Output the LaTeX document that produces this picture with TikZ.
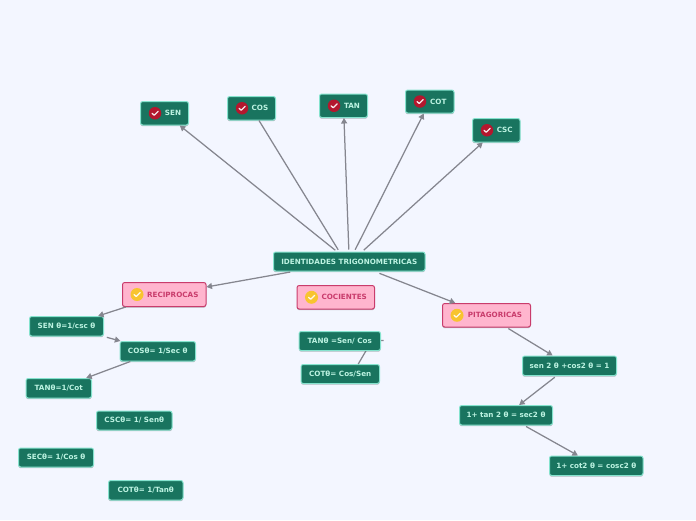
\documentclass[tikz,border=0pt]{standalone}
\usepackage{fontspec}
\setmainfont{DejaVu Sans}
\usetikzlibrary{arrows.meta,shadows,calc}
\definecolor{bgc}{HTML}{F3F6FF}
\definecolor{boxc}{HTML}{19745F}
\definecolor{boxb}{HTML}{85E3CE}
\definecolor{boxt}{HTML}{BDF3E2}
\definecolor{pinkc}{HTML}{FFB5CE}
\definecolor{pinkb}{HTML}{C93C6C}
\definecolor{linkc}{HTML}{85868F}
\definecolor{redi}{HTML}{B3172E}
\definecolor{yeli}{HTML}{F8C42F}
\tikzset{
  x=1pt,y=-1pt,
  base/.style={rounded corners=2.2pt,line width=1pt,inner sep=0pt,font=\bfseries\fontsize{7.2}{8}\selectfont,
    drop shadow={shadow xshift=0pt,shadow yshift=-1.2pt,fill=black,opacity=.25}},
  green/.style={base,draw=boxb,fill=boxc,text=boxt},
  pink/.style={base,draw=pinkb,fill=pinkc,text=pinkb},
  link/.style={draw=linkc,line width=1.25pt,-{Triangle[length=5.5pt,width=6pt]}},
  plainlink/.style={draw=linkc,line width=1.25pt},
  iconr/.style={circle,fill=redi,minimum size=12.5pt,inner sep=0pt},
  icony/.style={circle,fill=yeli,minimum size=13pt,inner sep=0pt},
}
\newcommand\bx[7]{\node[#6,minimum width=#4pt-#2pt,minimum height=#5pt-#3pt] (#1) at ({(#2+#4)/2},{(#3+#5)/2}) {#7};}
\newcommand\chk[3]{\node[#3] (i#1) at ($(#1.west)+(#2pt,0pt)$) {};
  \draw[white,line width=1.3pt,line cap=round,line join=round,opacity=.9] ($(i#1.center)+(-3pt,0pt)$) -- ($(i#1.center)+(-.8pt,-2pt)$) -- ($(i#1.center)+(3.2pt,2pt)$);}
\begin{document}
\begin{tikzpicture}
\fill[bgc] (0,0) rectangle (696,520);
\useasboundingbox (0,0) rectangle (696,520);
\bx{sen}{140.5}{101.5}{188.5}{125}{green}{\hspace*{17pt}SEN}
\bx{cos}{227.5}{96.5}{275.5}{120}{green}{\hspace*{17pt}COS}
\bx{tan}{319.5}{94}{367.5}{117.5}{green}{\hspace*{17pt}TAN}
\bx{cot}{405.5}{90}{454}{113}{green}{\hspace*{17pt}COT}
\bx{csc}{472.5}{118.5}{520}{142}{green}{\hspace*{17pt}CSC}
\bx{ident}{273.5}{252}{425}{271}{green}{IDENTIDADES TRIGONOMETRICAS}
\bx{coc}{297}{285.5}{374.5}{309}{pink}{\hspace*{17pt}COCIENTES}
\bx{rec}{122.5}{282.5}{206}{306.5}{pink}{\hspace*{17pt}RECIPROCAS}
\bx{pit}{442.5}{303.5}{530.5}{327}{pink}{\hspace*{17pt}PITAGORICAS}
\coordinate (stub) at (383.5,340.5);
\coordinate (bend) at (372,340.5);
\bx{cotb}{301}{364.5}{379.5}{383.5}{green}{COTθ= Cos/Sen}
\draw[plainlink] (stub) -- (bend) -- ($(cotb.north)+(18pt,0pt)$);
\bx{tanb}{299}{331.5}{380.5}{350.5}{green}{TANθ =Sen/ Cos}
\bx{sena}{29.5}{316.5}{103.5}{336}{green}{SEN θ=1/csc θ}
\bx{cosa}{120}{341.5}{195.5}{361}{green}{COSθ= 1/Sec θ}
\bx{tana}{26}{378.5}{91.5}{398}{green}{TANθ=1/Cot}
\bx{csca}{96.5}{411}{172}{430}{green}{CSCθ= 1/ Senθ}
\bx{seca}{18.5}{448}{93.5}{467}{green}{SECθ= 1/Cos θ}
\bx{cota}{108.5}{480.5}{183}{500}{green}{COTθ= 1/Tanθ}
\bx{pa}{522.5}{356}{616.5}{375.5}{green}{sen 2 θ +cos2 θ = 1}
\bx{pb}{459.5}{405.5}{552.5}{425}{green}{1+ tan 2 θ = sec2 θ}
\bx{pc}{549.5}{456}{643}{475.5}{green}{1+ cot2 θ = cosc2 θ}
\chk{sen}{15}{iconr}\chk{cos}{15}{iconr}\chk{tan}{15}{iconr}\chk{cot}{15}{iconr}\chk{csc}{15}{iconr}
\chk{coc}{15}{icony}\chk{rec}{15}{icony}\chk{pit}{15}{icony}
\draw[link,shorten <=2pt] (ident) -- (sen);
\draw[plainlink,shorten <=2pt] ($(ident.north)+(-10pt,0pt)$) -- (cos);
\draw[link,shorten <=2pt] (ident) -- (tan);
\draw[link,shorten <=2pt] (ident) -- (cot);
\draw[link,shorten <=2pt] ($(ident.north)+(13pt,0pt)$) -- (csc);
\draw[link,shorten <=3pt] (ident) -- (rec);
\draw[link,shorten <=5pt] (ident) -- (pit);
\draw[link] (rec) -- (sena);
\draw[link,shorten <=3pt] (sena) -- (cosa);
\draw[link] (cosa) -- (tana);
\draw[link,shorten <=2pt] (pit) -- (pa);
\draw[link,shorten <=2pt] (pa) -- (pb);
\draw[link,shorten <=2pt] (pb) -- (pc);
\end{tikzpicture}
\end{document}
